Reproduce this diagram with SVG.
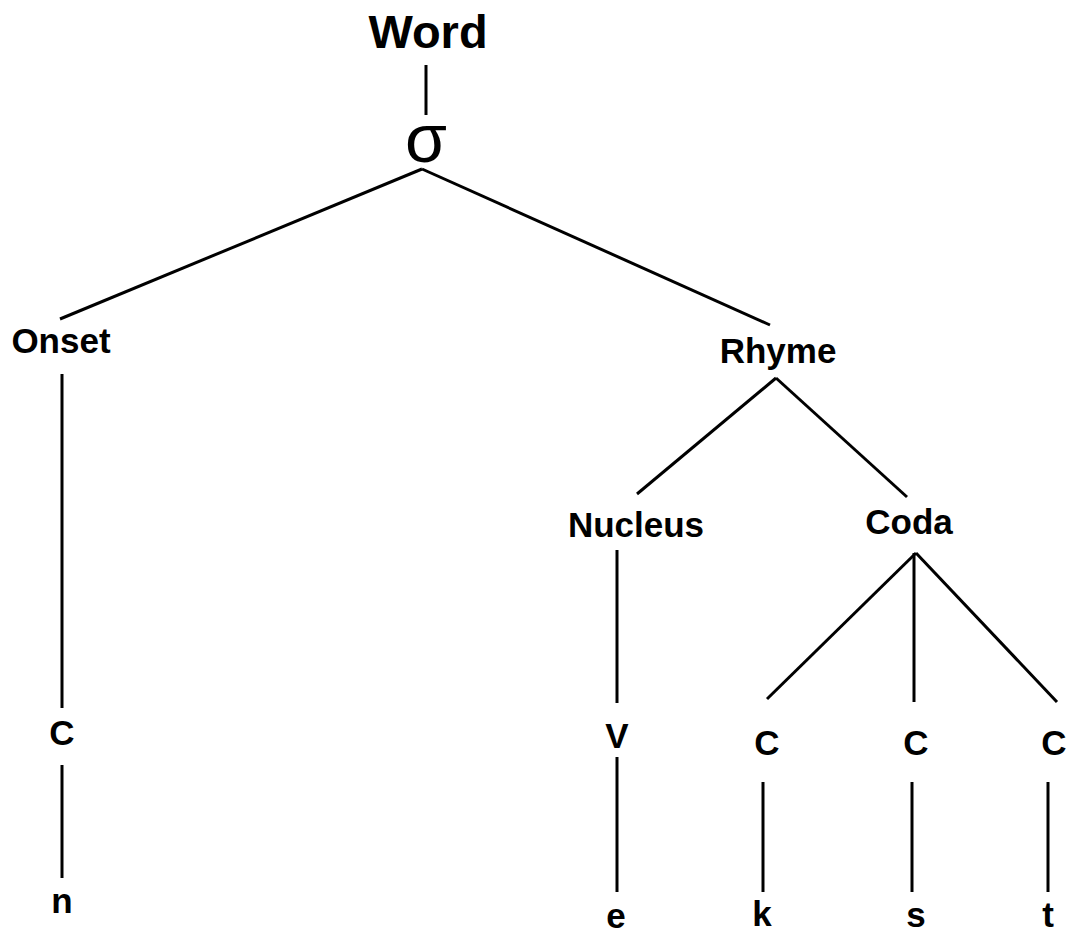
<svg xmlns="http://www.w3.org/2000/svg" width="1067" height="934" viewBox="0 0 1067 934">
<style>
.lbl{font-family:"Liberation Sans",Arial,sans-serif;font-weight:bold;font-size:35px;fill:#000;text-anchor:middle}
.top{font-size:47px}
.sig{font-family:"Liberation Sans",Arial,sans-serif;font-weight:normal;font-size:68px;fill:#000;text-anchor:middle}
.edge{stroke:#000;stroke-width:3;fill:none;stroke-linecap:butt}
</style>
<rect width="1067" height="934" fill="#fff"/>
<g id="connectors" class="edge">
<line x1="426" y1="65" x2="426" y2="115"/>
<line x1="422" y1="169" x2="60" y2="319"/>
<line x1="422" y1="169" x2="770" y2="325"/>
<line x1="62" y1="374" x2="62" y2="708"/>
<line x1="62" y1="765" x2="62" y2="878"/>
<line x1="776" y1="378" x2="637" y2="494"/>
<line x1="776" y1="378" x2="907" y2="497"/>
<line x1="617" y1="550" x2="617" y2="703"/>
<line x1="617" y1="757" x2="617" y2="892"/>
<line x1="916" y1="553" x2="767" y2="699"/>
<line x1="914" y1="553" x2="914" y2="702"/>
<line x1="916" y1="553" x2="1057" y2="702"/>
<line x1="763" y1="782" x2="763" y2="892"/>
<line x1="912" y1="782" x2="912" y2="892"/>
<line x1="1048" y1="782" x2="1048" y2="892"/>
</g>
<g id="word"><text class="lbl top" x="428" y="48">Word</text></g>
<g id="sigma"><text class="sig" x="426" y="162">σ</text></g>
<g id="onset"><text class="lbl" x="61" y="353">Onset</text></g>
<g id="rhyme"><text class="lbl" x="778" y="363">Rhyme</text></g>
<g id="nucleus"><text class="lbl" x="636" y="537">Nucleus</text></g>
<g id="coda"><text class="lbl" x="909" y="534">Coda</text></g>
<g id="c-onset"><text class="lbl" x="62" y="745">C</text></g>
<g id="n"><text class="lbl" x="62" y="913">n</text></g>
<g id="v"><text class="lbl" x="617" y="748">V</text></g>
<g id="e"><text class="lbl" x="616" y="928">e</text></g>
<g id="c1"><text class="lbl" x="767" y="755">C</text></g>
<g id="k"><text class="lbl" x="762" y="926">k</text></g>
<g id="c2"><text class="lbl" x="916" y="755">C</text></g>
<g id="s"><text class="lbl" x="916" y="927">s</text></g>
<g id="c3"><text class="lbl" x="1054" y="755">C</text></g>
<g id="t"><text class="lbl" x="1048" y="927">t</text></g>
</svg>
